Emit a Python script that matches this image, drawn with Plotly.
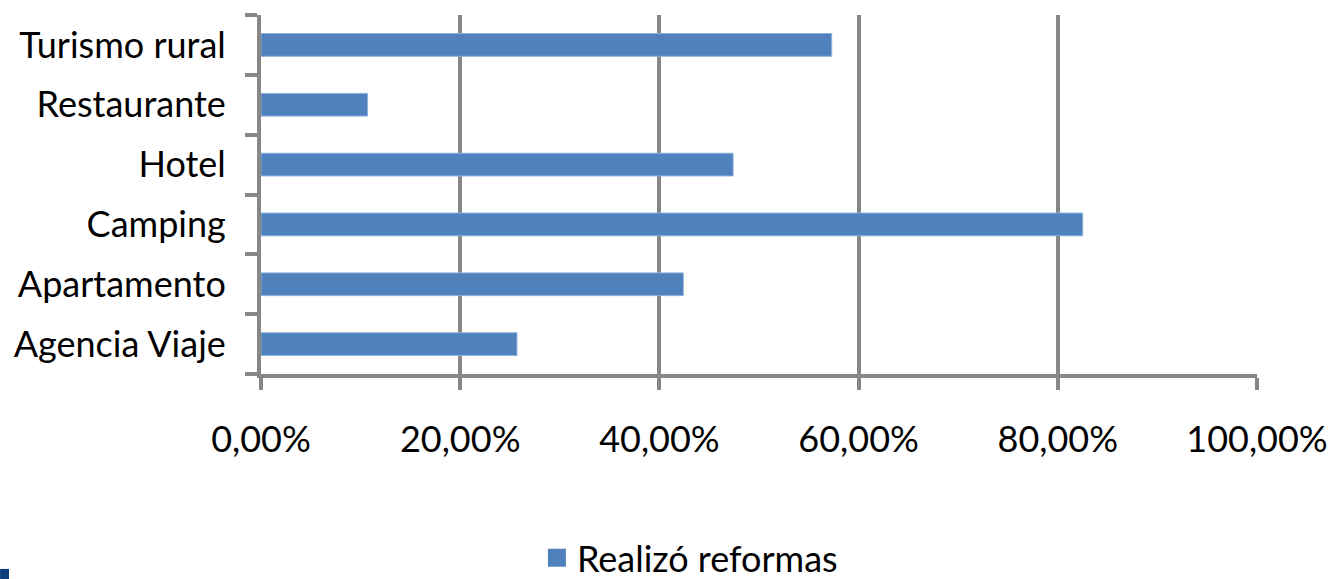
import plotly.graph_objects as go

categories = ["Agencia Viaje", "Apartamento", "Camping", "Hotel", "Restaurante", "Turismo rural"]
values = [0.257, 0.424, 0.825, 0.474, 0.107, 0.573]
series_name = "Realizó reformas"
x_ticks = [0, 0.2, 0.4, 0.6, 0.8, 1.0]

FONT = "Lato"
FS = 36
GRAY = "#878787"
BLUE = "#4F81BD"

fig = go.Figure()
fig.add_trace(go.Bar(
    y=categories, x=values, orientation="h", name=series_name,
    marker=dict(color=BLUE, line=dict(color="#8DB0DA", width=1)),
    showlegend=False,
))
# legend entry (larger square symbol)
fig.add_trace(go.Scatter(
    x=[None], y=[None], mode="markers", name=series_name,
    marker=dict(symbol="square", size=16, color=BLUE, line=dict(color=BLUE, width=2)),
    showlegend=True,
))

fig.update_layout(
    width=1336, height=579,
    margin=dict(l=261, r=79, t=15, b=205, autoexpand=False),
    paper_bgcolor="white", plot_bgcolor="white",
    separators=",.",
    bargap=0.62,
    font=dict(family=FONT, size=FS, color="black"),
    showlegend=True,
    legend=dict(x=0.277, y=-0.512, xanchor="left", yanchor="middle",
                font=dict(family=FONT, size=FS, color="black"),
                itemwidth=30, bgcolor="rgba(0,0,0,0)"),
    xaxis=dict(range=[0, 1], tickvals=x_ticks, tickformat=".2%",
               showgrid=True, gridcolor=GRAY, gridwidth=4,
               showline=True, linecolor=GRAY, linewidth=4,
               ticks="outside", ticklen=12, tickwidth=4, tickcolor=GRAY,
               ticklabelstandoff=19, zeroline=False,
               tickfont=dict(family=FONT, size=FS, color="black")),
    yaxis=dict(categoryorder="array", categoryarray=categories,
               showline=True, linecolor=GRAY, linewidth=4,
               ticks="outside", ticklen=12, tickwidth=4, tickcolor=GRAY,
               tickson="boundaries", ticklabelstandoff=24,
               showgrid=False, zeroline=False,
               tickfont=dict(family=FONT, size=FS, color="black")),
    shapes=[dict(type="rect", xref="paper", yref="paper",
                 x0=-0.262, x1=-0.253, y0=-0.571, y1=-0.543,
                 fillcolor="#0B3D7A", line=dict(width=0))],
)

fig.write_html("out.html")
